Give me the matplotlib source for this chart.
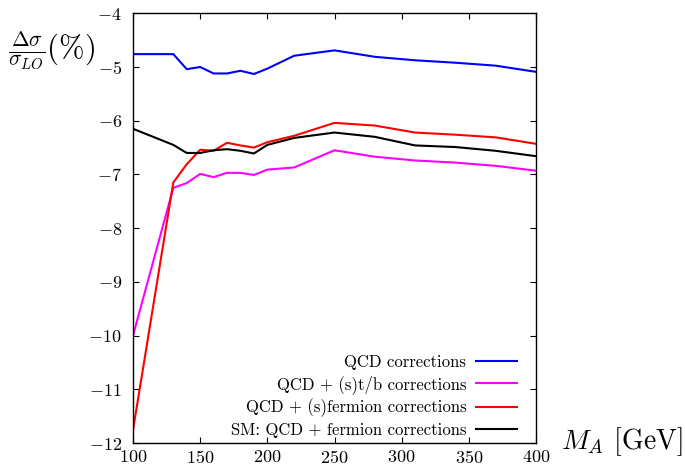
import matplotlib
matplotlib.use("Agg")
import matplotlib.pyplot as plt

plt.rcParams['font.family'] = ['cmr10', 'DejaVu Serif']
plt.rcParams['mathtext.fontset'] = 'cm'
plt.rcParams['axes.formatter.use_mathtext'] = True

mass = [100, 130, 140, 150, 160, 170, 180, 190, 200, 220, 250, 280, 310, 340, 370, 400]
qcd = [-4.76, -4.76, -5.04, -5.00, -5.12, -5.12, -5.07, -5.13, -5.03, -4.79, -4.69,
       -4.81, -4.875, -4.92, -4.975, -5.09]
qcd_stb = [-10.0, -7.25, -7.16, -6.99, -7.05, -6.97, -6.97, -7.01, -6.91, -6.87, -6.55,
           -6.67, -6.74, -6.78, -6.84, -6.93]
qcd_sferm = [-11.76, -7.15, -6.81, -6.54, -6.56, -6.41, -6.46, -6.50, -6.40, -6.28, -6.04,
             -6.09, -6.22, -6.26, -6.31, -6.43]
sm = [-6.15, -6.45, -6.60, -6.60, -6.55, -6.53, -6.56, -6.61, -6.45, -6.32, -6.22,
      -6.30, -6.46, -6.49, -6.56, -6.66]

labels = ["QCD corrections", "QCD + (s)t/b corrections",
          "QCD + (s)fermion corrections", "SM: QCD + fermion corrections"]
colors = ["#0000ff", "#ff00ff", "#ff0000", "#000000"]

fig = plt.figure(figsize=(6.85, 4.66), dpi=100)
ax = fig.add_axes([133/685, 1 - 443/466, (536-133)/685, (443-13.3)/466])

for y, lab, c in zip([qcd, qcd_stb, qcd_sferm, sm], labels, colors):
    ax.plot(mass, y, color=c, lw=1.5, label=lab)

ax.set_xlim(100, 400)
ax.set_ylim(-12, -4)
ax.set_xticks([100, 150, 200, 250, 300, 350, 400])
ax.set_yticks([-12, -11, -10, -9, -8, -7, -6, -5, -4])
ax.tick_params(direction='in', top=True, right=True, labelsize=13, length=4, width=0.8)
ax.tick_params(axis='y', pad=8)
ax.tick_params(axis='x', pad=4)
for s in ax.spines.values():
    s.set_linewidth(1.0)

leg = ax.legend(loc='lower right', frameon=False, markerfirst=False, fontsize=12,
                handlelength=2.45, handletextpad=0.6, labelspacing=0.3, borderaxespad=0.0,
                bbox_to_anchor=(0.97, -0.003))

fig.text(8/685, 1 - 50/466, r'$\frac{\Delta\sigma}{\sigma_{LO}}(\%)$', fontsize=22,
         ha='left', va='center')
fig.text(561/685, 1 - 442/466, r'$M_A$ [GeV]', fontsize=20, ha='left', va='center')

fig.savefig("out.png", dpi=100)
